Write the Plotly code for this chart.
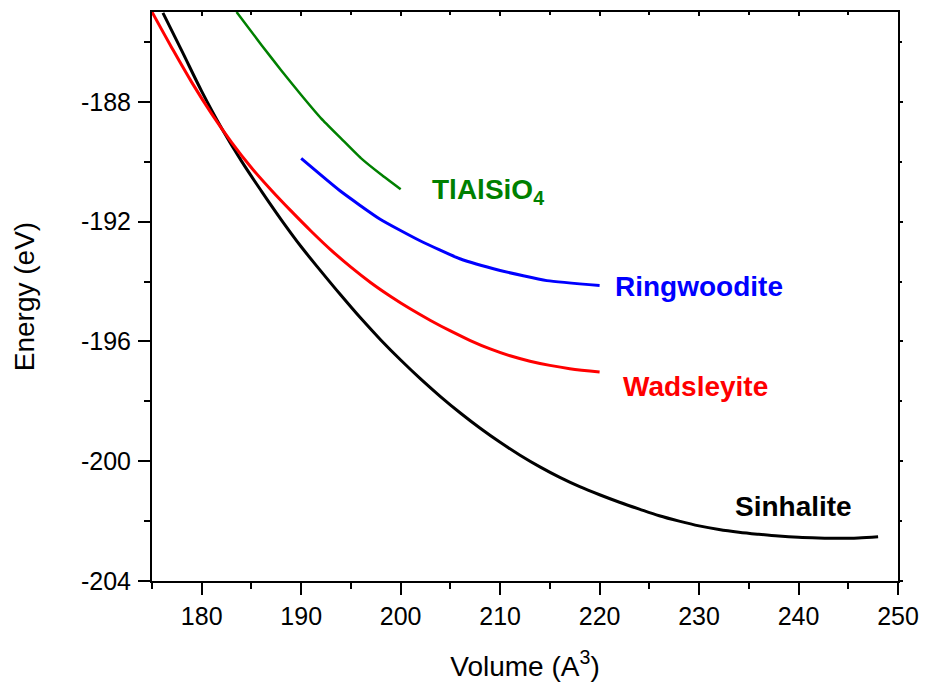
import plotly.graph_objects as go

# Data (volume in A^3, energy in eV)
sinhalite_v = [176.1, 178, 180, 182, 184, 186, 188, 190, 192, 194, 196, 198, 200, 202, 204, 206, 208, 210, 212, 214, 216, 218, 220,
               222, 224, 226, 228, 230, 232, 234, 236, 238, 240, 242, 244, 246, 248]
sinhalite_e = [-185.03, -186.3, -187.65, -188.88, -189.98, -190.98, -191.94, -192.84, -193.66, -194.46, -195.23, -195.95, -196.62,
               -197.25, -197.84, -198.39, -198.9, -199.37, -199.8, -200.19, -200.54, -200.85, -201.12,
               -201.37, -201.6, -201.82, -202.0, -202.16, -202.28, -202.37, -202.44, -202.5, -202.54, -202.56, -202.57, -202.56, -202.52]

wadsleyite_v = [175, 177, 179, 181, 183, 185, 187, 189, 191, 193, 195, 197, 199, 201, 203, 205, 207, 209, 211, 213, 215, 217, 220]
wadsleyite_e = [-185.0, -186.2, -187.35, -188.4, -189.35, -190.2, -190.95, -191.65, -192.32, -192.95, -193.52, -194.04, -194.5,
                -194.92, -195.3, -195.65, -195.97, -196.25, -196.48, -196.66, -196.8, -196.91, -197.02]

ringwoodite_v = [190.0, 193.9, 197.9, 201.9, 205.95, 210.0, 214.7, 220.0]
ringwoodite_e = [-189.89, -190.97, -191.91, -192.63, -193.24, -193.63, -193.97, -194.13]

tlalsio4_v = [183.5, 186, 188, 190, 192, 194, 196, 198, 200]
tlalsio4_e = [-185.0, -186.1, -186.95, -187.77, -188.55, -189.22, -189.88, -190.42, -190.92]

labels = ["Sinhalite", "Wadsleyite", "Ringwoodite", "TlAlSiO<sub>4</sub>"]
label_x = [233.4, 222.2, 221.3, 202.9]
label_y = [-201.5, -197.5, -194.15, -191.0]
colors = ["#000000", "#FF0000", "#0000FF", "#008000"]

x_ticks = [180, 190, 200, 210, 220, 230, 240, 250]
y_ticks = [-204, -200, -196, -192, -188]
x_range = [175, 250]
y_range = [-204, -185]

series = [
    (sinhalite_v, sinhalite_e, 3, 1.0),
    (wadsleyite_v, wadsleyite_e, 3, 1.0),
    (ringwoodite_v, ringwoodite_e, 3, 0.5),
    (tlalsio4_v, tlalsio4_e, 2.5, 0.5),
]

FONT = "Liberation Sans, Arial, sans-serif"

fig = go.Figure()
for (xs, ys, w, sm), c, name in zip(series, colors, labels):
    fig.add_trace(go.Scatter(x=xs, y=ys, mode="lines", name=name,
                             line=dict(color=c, width=w, shape="spline", smoothing=sm),
                             showlegend=False))

# empty trace so the top/right tick axes are drawn
fig.add_trace(go.Scatter(x=[None], y=[None], xaxis="x2", yaxis="y2", mode="lines",
                         showlegend=False, hoverinfo="skip"))

for t, x, y, c in zip(labels, label_x, label_y, colors):
    fig.add_annotation(x=x, y=y, text=t, showarrow=False, xanchor="left", yanchor="middle",
                       font=dict(family=FONT, size=28, color=c, weight="bold"))

axis_font = dict(family=FONT, size=25, color="black")

fig.update_layout(
    width=926, height=686,
    margin=dict(l=152, r=28, t=12, b=105),
    paper_bgcolor="white", plot_bgcolor="white",
    xaxis=dict(range=x_range, tickvals=x_ticks, ticktext=[str(v) for v in x_ticks],
               showline=True, linecolor="black", linewidth=2, mirror=True,
               ticks="outside", ticklen=12, tickwidth=2, tickcolor="black",
               minor=dict(dtick=5, tick0=175, ticks="outside", ticklen=6, tickwidth=2, tickcolor="black"),
               showgrid=False, zeroline=False, tickfont=axis_font, automargin=False,
               title=dict(text="Volume (A<sup>3</sup>)", font=dict(family=FONT, size=28, color="black"), standoff=27)),
    yaxis=dict(range=y_range, tickvals=y_ticks, ticktext=[str(v) for v in y_ticks],
               showline=True, linecolor="black", linewidth=2, mirror=True,
               ticks="outside", ticklen=12, tickwidth=2, tickcolor="black",
               minor=dict(dtick=2, tick0=-204, ticks="outside", ticklen=6, tickwidth=2, tickcolor="black"),
               showgrid=False, zeroline=False, tickfont=axis_font, automargin=False,
               ticklabelstandoff=2,
               title=dict(text="Energy (eV)", font=dict(family=FONT, size=28, color="black"), standoff=38)),
    xaxis2=dict(range=x_range, overlaying="x", side="top", anchor="y2", showticklabels=False,
                tickvals=x_ticks, ticks="inside", ticklen=4, tickwidth=2, tickcolor="black",
                minor=dict(dtick=5, tick0=175, ticks="inside", ticklen=3, tickwidth=2, tickcolor="black"),
                showgrid=False, zeroline=False, showline=False, automargin=False),
    yaxis2=dict(range=y_range, overlaying="y", side="right", anchor="x2", showticklabels=False,
                tickvals=y_ticks, ticks="outside", ticklen=4, tickwidth=2, tickcolor="black",
                minor=dict(dtick=2, tick0=-204, ticks="outside", ticklen=3, tickwidth=2, tickcolor="black"),
                showgrid=False, zeroline=False, showline=False, automargin=False),
)

fig.write_html("out.html", config={"displayModeBar": False},
               post_script="document.body.style.margin='0px';")
